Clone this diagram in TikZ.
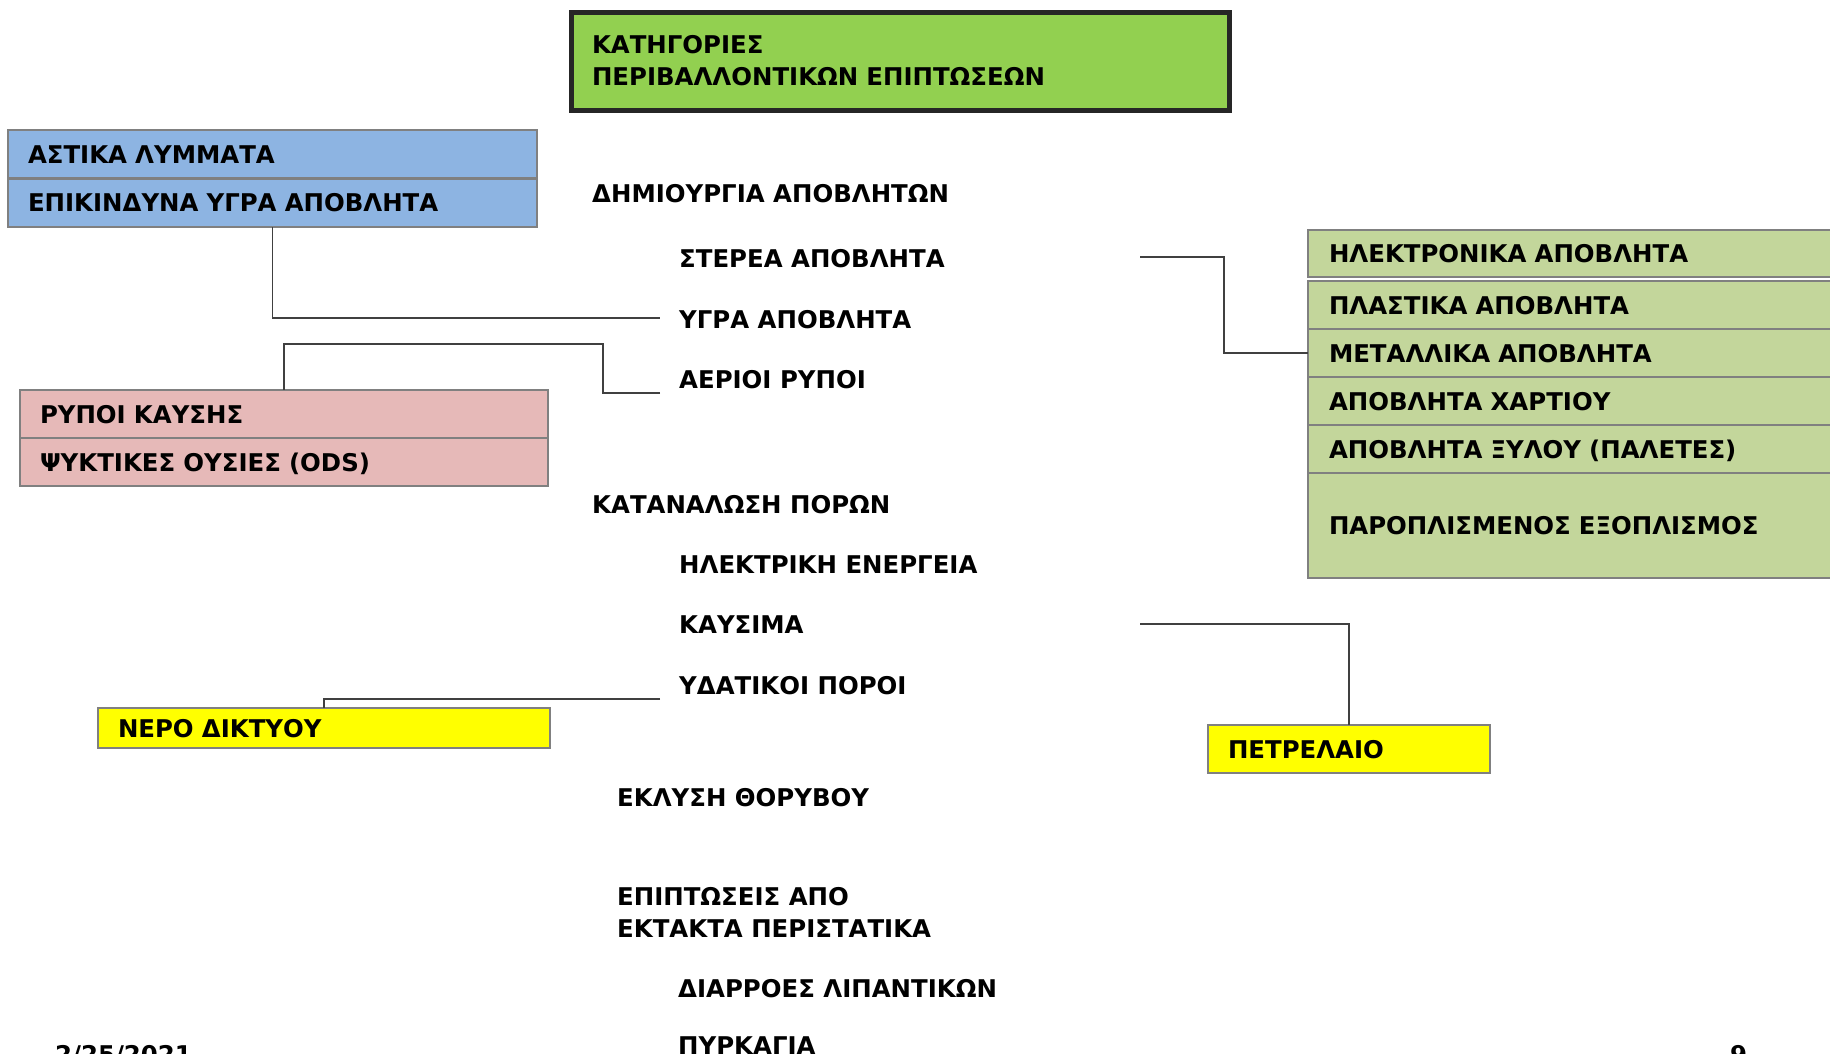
\documentclass[tikz,border=0pt]{standalone}
\usepackage{fontspec}
\setmainfont{DejaVu Sans}
\definecolor{titlegreen}{HTML}{92D050}
\definecolor{titledark}{HTML}{262626}
\definecolor{rowblue}{HTML}{8DB4E2}
\definecolor{rowpink}{HTML}{E6B9B8}
\definecolor{rowolive}{HTML}{C3D69B}
\definecolor{rowyellow}{HTML}{FFFF00}
\definecolor{boxgray}{HTML}{808080}
\tikzset{
    every node/.style={font=\fontsize{24.5}{32}\selectfont\bfseries}
}
\tikzset{
    rowbox/.style={draw=boxgray, line width=2.5bp, anchor=north west,
    	inner xsep=20bp, inner ysep=0bp, outer sep=0bp, align=left,
    	text height=18bp, text depth=0bp},
    lbl/.style={anchor=base west, inner sep=0bp},
    conn/.style={draw=black!75, line width=1.4bp}
}

\begin{document}
\begin{tikzpicture}[x=1bp, y=-1bp]
	\fill[white] (0,0) rectangle (1830,1053);
	\useasboundingbox (0,0) rectangle (1830,1053);
	% title
	\node [draw=titledark, line width=5bp, fill=titlegreen, anchor=north west,
		minimum width=658bp, minimum height=98bp, text width=616bp,
		inner xsep=21bp, outer sep=0bp, align=left] (cat) at (571,12)
		{ΚΑΤΗΓΟΡΙΕΣ\\ΠΕΡΙΒΑΛΛΟΝΤΙΚΩΝ ΕΠΙΠΤΩΣΕΩΝ};
	% left boxes
	\node [rowbox, fill=rowblue, minimum width=529bp, minimum height=48.5bp,
		text width=489bp] (b1) at (8,130) {ΑΣΤΙΚΑ ΛΥΜΜΑΤΑ};
	\node [rowbox, fill=rowblue, minimum width=529bp, minimum height=48.5bp,
		text width=489bp] (b2) at (b1.south west) {ΕΠΙΚΙΝΔΥΝΑ ΥΓΡΑ ΑΠΟΒΛΗΤΑ};
	\node [rowbox, fill=rowpink, minimum width=528bp, minimum height=48bp,
		text width=488bp] (p1) at (20,390) {ΡΥΠΟΙ ΚΑΥΣΗΣ};
	\node [rowbox, fill=rowpink, minimum width=528bp, minimum height=48bp,
		text width=488bp] (p2) at (p1.south west) {ΨΥΚΤΙΚΕΣ ΟΥΣΙΕΣ (ODS)};
	\node [rowbox, fill=rowyellow, minimum width=452bp, minimum height=40bp,
		text width=412bp] (nero) at (98,708) {ΝΕΡΟ ΔΙΚΤΥΟΥ};
	% right boxes
	\node [rowbox, fill=rowolive, minimum width=540bp, minimum height=47bp,
		text width=499bp, inner xsep=21bp] (r1) at (1308,230) {ΗΛΕΚΤΡΟΝΙΚΑ ΑΠΟΒΛΗΤΑ};
	\node [rowbox, fill=rowolive, minimum width=540bp, minimum height=48bp,
		text width=499bp, inner xsep=21bp] (r2) at (1308,281) {ΠΛΑΣΤΙΚΑ ΑΠΟΒΛΗΤΑ};
	\node [rowbox, fill=rowolive, minimum width=540bp, minimum height=48bp,
		text width=499bp, inner xsep=21bp] (r3) at (r2.south west) {ΜΕΤΑΛΛΙΚΑ ΑΠΟΒΛΗΤΑ};
	\node [rowbox, fill=rowolive, minimum width=540bp, minimum height=48bp,
		text width=499bp, inner xsep=21bp] (r4) at (r3.south west) {ΑΠΟΒΛΗΤΑ ΧΑΡΤΙΟΥ};
	\node [rowbox, fill=rowolive, minimum width=540bp, minimum height=48bp,
		text width=499bp, inner xsep=21bp] (r5) at (r4.south west) {ΑΠΟΒΛΗΤΑ ΞΥΛΟΥ (ΠΑΛΕΤΕΣ)};
	\node [rowbox, fill=rowolive, minimum width=540bp, minimum height=105bp,
		text width=499bp, inner xsep=21bp] (r6) at (r5.south west) {ΠΑΡΟΠΛΙΣΜΕΝΟΣ ΕΞΟΠΛΙΣΜΟΣ};
	\node [rowbox, fill=rowyellow, minimum width=282bp, minimum height=48bp,
		text width=242bp] (pet) at (1208,725) {ΠΕΤΡΕΛΑΙΟ};
	% middle column
	\node [lbl] (dim) at (592,202) {ΔΗΜΙΟΥΡΓΙΑ ΑΠΟΒΛΗΤΩΝ};
	\node [lbl] (ster) at (679,267) {ΣΤΕΡΕΑ ΑΠΟΒΛΗΤΑ};
	\node [lbl] (ygra) at (679,328) {ΥΓΡΑ ΑΠΟΒΛΗΤΑ};
	\node [lbl] (aer) at (679,388) {ΑΕΡΙΟΙ ΡΥΠΟΙ};
	\node [lbl] (katan) at (592,513) {ΚΑΤΑΝΑΛΩΣΗ ΠΟΡΩΝ};
	\node [lbl] (ilek) at (679,573) {ΗΛΕΚΤΡΙΚΗ ΕΝΕΡΓΕΙΑ};
	\node [lbl] (kaus) at (679,633) {ΚΑΥΣΙΜΑ};
	\node [lbl] (ydat) at (679,694) {ΥΔΑΤΙΚΟΙ ΠΟΡΟΙ};
	\node [lbl] (ekl) at (617,806) {ΕΚΛΥΣΗ ΘΟΡΥΒΟΥ};
	\node [lbl, anchor=west, align=left] (epip) at (617,912)
		{ΕΠΙΠΤΩΣΕΙΣ ΑΠΟ\\ΕΚΤΑΚΤΑ ΠΕΡΙΣΤΑΤΙΚΑ};
	\node [lbl] (diar) at (678,997) {ΔΙΑΡΡΟΕΣ ΛΙΠΑΝΤΙΚΩΝ};
	\node [lbl] (pyrk) at (678,1054) {ΠΥΡΚΑΓΙΑ};
	% footer
	\node [lbl] (date) at (55,1063) {2/25/2021};
	\node [lbl] (page) at (1730,1063) {9};
	% connectors
	\coordinate (ygraL) at (660,318);
	\coordinate (aerL) at (660,393);
	\coordinate (sterR) at (1140,257);
	\coordinate (kausR) at (1140,624);
	\coordinate (ydatL) at (660,699);
	\draw[conn] (b2.south) |- (ygraL);
	\draw[conn] (aerL) -| (603,344) -| (p1.north);
	\draw[conn] (sterR) -- ++(84,0) |- (r3.west);
	\draw[conn] (kausR) -| (pet.north);
	\draw[conn] (ydatL) -| (nero.north);
\end{tikzpicture}
\end{document}
